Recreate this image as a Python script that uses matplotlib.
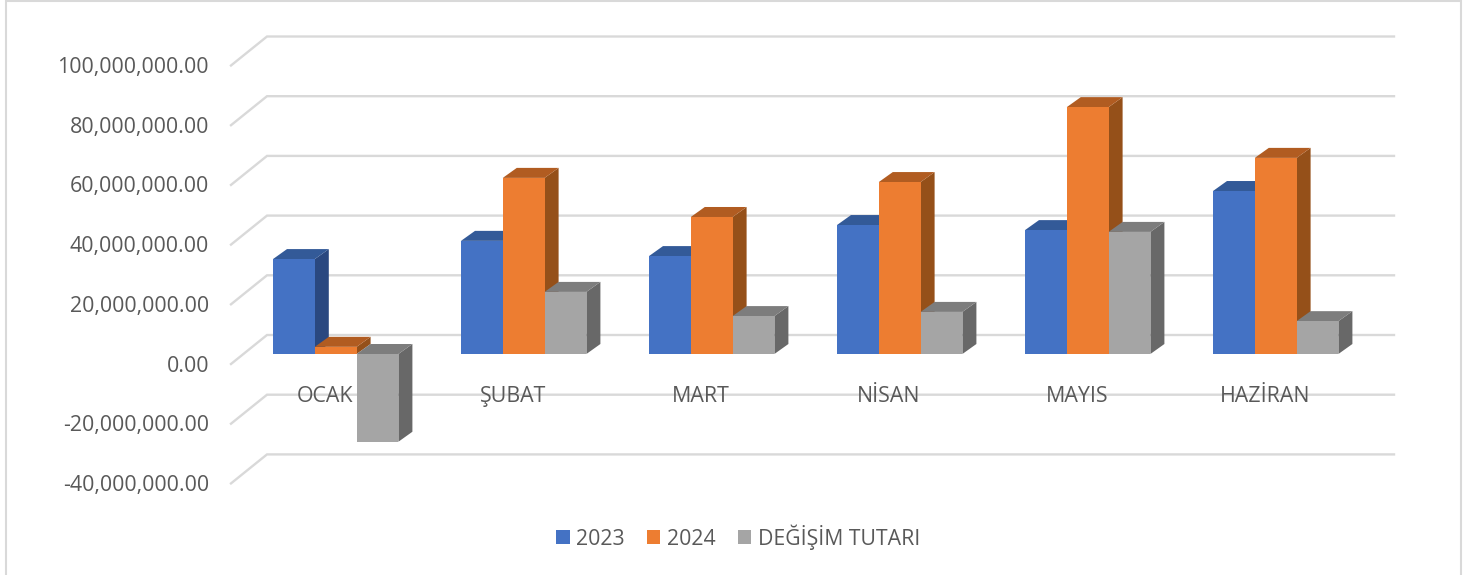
import matplotlib
matplotlib.use('Agg')
import matplotlib.pyplot as plt
from matplotlib.patches import Patch, Polygon, Rectangle

plt.rcParams['font.family'] = ['Open Sans', 'DejaVu Sans']

months = ['OCAK', 'ŞUBAT', 'MART', 'NİSAN', 'MAYIS', 'HAZİRAN']
values_2023 = [31.8, 37.9, 32.8, 43.2, 41.5, 54.6]
values_2024 = [2.4, 59.0, 45.9, 57.6, 82.7, 65.7]
values_change = [-29.4, 20.8, 12.7, 14.1, 40.9, 11.0]
tick_values = [100, 80, 60, 40, 20, 0, -20, -40]
series_names = ['2023', '2024', 'DEĞİŞİM TUTARI']

# front, top, side colours of each series
colors = [('#4472C4', '#335A98', '#2A4880'),
          ('#ED7D31', '#B15C21', '#955019'),
          ('#A5A5A5', '#7D7D7D', '#686868')]

W, H = 1475, 575
PX_X = 188.0    # pixels per category
PX_Y = 2.985    # pixels per million
X0, Y0 = 335.7, 354    # pixel of first group centre and of the zero line

fig = plt.figure(figsize=(W / 100, H / 100), dpi=100, facecolor='white')
ax = fig.add_axes([0, 0, 1, 1])
ax.set_xlim(-X0 / PX_X, (W - X0) / PX_X)
ax.set_ylim((Y0 - H) / PX_Y, Y0 / PX_Y)
ax.axis('off')

fig.add_artist(Rectangle((5.5 / W, -0.05), 1455.5 / W, 1.05 - 1.5 / H, transform=fig.transFigure,
                         fill=False, edgecolor='#D9D9D9', linewidth=1.5))

# grid on the floor side and back wall
wall_left = (231 - X0) / PX_X
back_left = (267 - X0) / PX_X
back_right = (1394 - X0) / PX_X
front_off = -10 / PX_Y
back_off = 19 / PX_Y
label_off = -12 / PX_Y
for v in tick_values:
    ax.plot([wall_left, back_left, back_right], [v + front_off, v + back_off, v + back_off],
            color='#D9D9D9', lw=1.7, solid_joinstyle='miter', zorder=1)
    label = f'{v * 1000000:,.2f}'
    ax.text((209 - X0) / PX_X, v + label_off, label, ha='right', va='center',
            fontsize=15.4, color='#595959', zorder=5)

# bars with a fake 3d depth
bar_w = 41.8 / PX_X
dx = 14 / PX_X
dy = 10 / PX_Y
series = [values_2023, values_2024, values_change]
for i in range(len(months)):
    for j, vals in enumerate(series):
        v = vals[i]
        left = i + (j - 1.5) * bar_w
        right = left + bar_w
        top = max(v, 0)
        bottom = min(v, 0)
        front, top_c, side_c = colors[j]
        ax.add_patch(Polygon([(right, bottom), (right + dx, bottom + dy), (right + dx, top + dy), (right, top)],
                             facecolor=side_c, edgecolor='none', zorder=2))
        ax.add_patch(Polygon([(left, top), (left + dx, top + dy), (right + dx, top + dy), (right, top)],
                             facecolor=top_c, edgecolor='none', zorder=2))
        ax.bar(left, v, width=bar_w, align='edge', color=front, zorder=2)
    ax.text(i - 11 / PX_X, -14.1, months[i], ha='center', va='center',
            fontsize=15.4, color='#595959', zorder=5)

handles = [Patch(facecolor=c[0], edgecolor='none') for c in colors]
ax.legend(handles, series_names, loc='center', bbox_to_anchor=(738 / W, 1 - 537 / H), ncol=3,
          frameon=False, fontsize=15.3, labelcolor='#595959', handlelength=0.64, handleheight=0.64,
          handletextpad=0.3, columnspacing=1.04)

fig.savefig('out.png', dpi=100)
